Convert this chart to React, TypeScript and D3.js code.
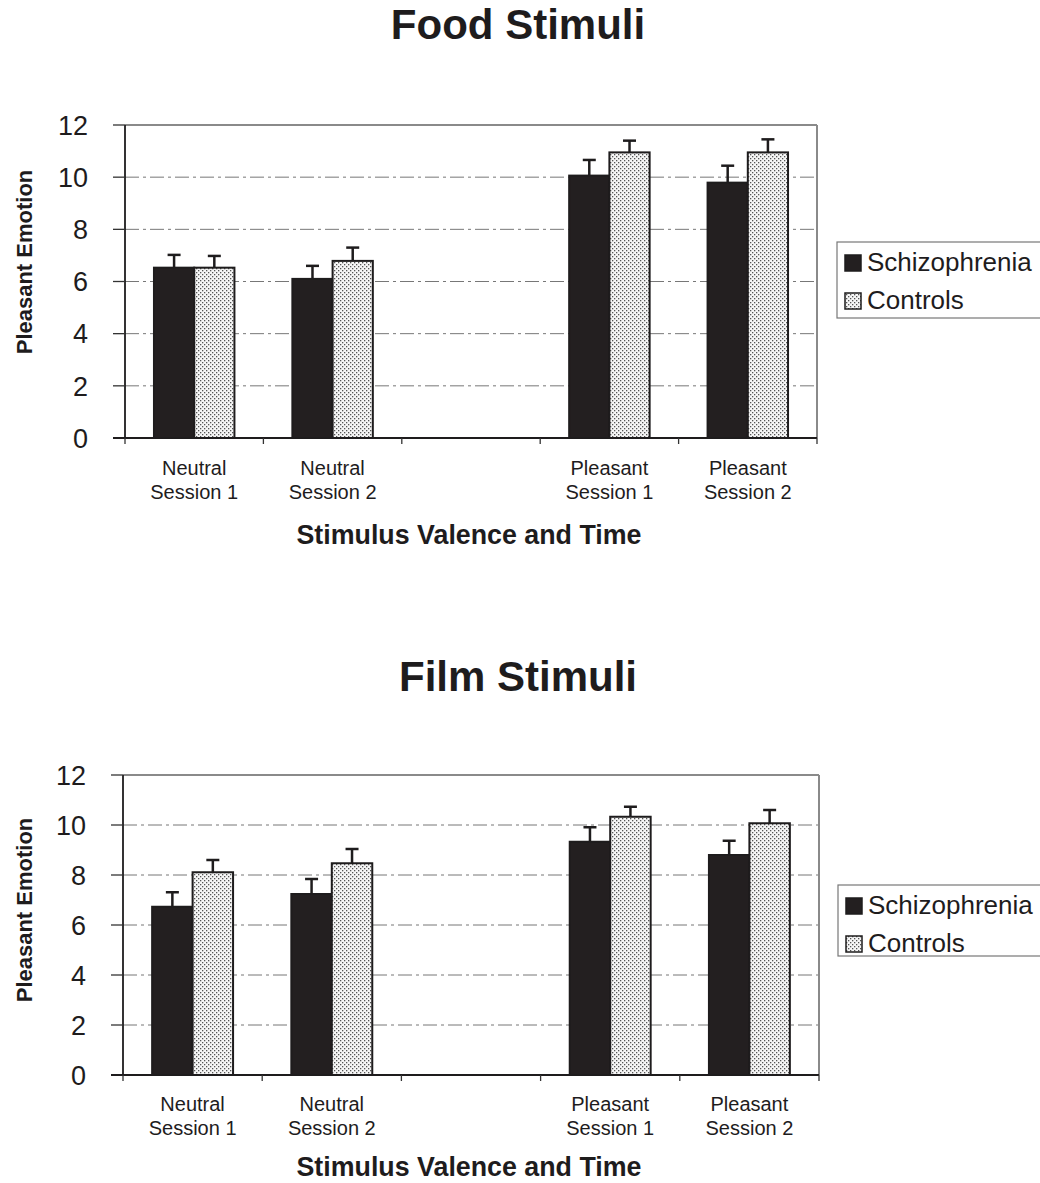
import React from "react";
import * as d3 from "d3";

// ---------- data ----------
const slots = ["NS1", "NS2", "gap", "PS1", "PS2"];
const barSlots = ["NS1", "NS2", "PS1", "PS2"];
const categoryLabels = [
  ["Neutral", "Session 1"],
  ["Neutral", "Session 2"],
  ["Pleasant", "Session 1"],
  ["Pleasant", "Session 2"],
];
const seriesNames = ["Schizophrenia", "Controls"];
const yTicks = [0, 2, 4, 6, 8, 10, 12];

const foodSchizo = [6.53, 6.1, 10.06, 9.79];
const foodSchizoSE = [0.49, 0.5, 0.6, 0.65];
const foodControls = [6.53, 6.79, 10.95, 10.95];
const foodControlsSE = [0.45, 0.51, 0.45, 0.5];

const filmSchizo = [6.73, 7.24, 9.33, 8.8];
const filmSchizoSE = [0.58, 0.6, 0.58, 0.57];
const filmControls = [8.11, 8.47, 10.33, 10.07];
const filmControlsSE = [0.49, 0.57, 0.4, 0.53];

const FONT = "'Liberation Sans', Arial, Helvetica, sans-serif";

type PanelProps = {
  title: string;
  titleY: number;
  left: number;
  top: number;
  right: number;
  bottom: number;
  schizo: number[];
  schizoSE: number[];
  controls: number[];
  controlsSE: number[];
  yTitleY: number;
  legendX: number;
  legendY: number;
  legendH: number;
  catY: number;
  axisTitleY: number;
};

function Panel(p: PanelProps) {
  const x = d3.scaleBand<string>().domain(slots).range([p.left, p.right]).padding(0);
  const xs = d3
    .scaleBand<string>()
    .domain(seriesNames)
    .range([0, x.step()])
    .paddingInner(0)
    .paddingOuter(0.72);
  const y = d3.scaleLinear().domain([0, 12]).range([p.bottom, p.top]);
  const tickXs = slots.map((s) => x(s) as number).concat([p.right]);
  const bw = xs.bandwidth();
  const series = [
    { name: "Schizophrenia", vals: p.schizo, se: p.schizoSE },
    { name: "Controls", vals: p.controls, se: p.controlsSE },
  ];
  const cx = (p.left + p.right) / 2;
  return (
    <g>
      <text
        x={518}
        y={p.titleY}
        textAnchor="middle"
        fontFamily={FONT}
        fontWeight="bold"
        fontSize={42}
        fill="#1e1c1d"
      >
        {p.title}
      </text>
      {/* gridlines */}
      {yTicks
        .filter((t) => t > 0 && t < 12)
        .map((t) => (
          <line
            key={"g" + t}
            x1={p.left}
            x2={p.right}
            y1={y(t)}
            y2={y(t)}
            stroke="#777"
            strokeWidth={1}
            strokeDasharray="14 4 3 4"
          />
        ))}
      {/* frame top/right (gray stipple) */}
      <line x1={p.left} x2={p.right} y1={p.top} y2={p.top} stroke="#8a8a8a" strokeWidth={2} />
      <line x1={p.right} x2={p.right} y1={p.top} y2={p.bottom} stroke="#8a8a8a" strokeWidth={2} />
      {/* bars */}
      {series.map((s) =>
        barSlots.map((slot, i) => {
          const bx = (x(slot) as number) + (xs(s.name) as number);
          const v = s.vals[i];
          const e = v + s.se[i];
          const mid = bx + bw / 2;
          return (
            <g key={s.name + slot}>
              <line x1={mid} x2={mid} y1={y(v)} y2={y(e)} stroke="#1e1c1d" strokeWidth={2.5} />
              <line x1={mid - 6.5} x2={mid + 6.5} y1={y(e)} y2={y(e)} stroke="#1e1c1d" strokeWidth={2.5} />
              <rect
                x={bx}
                y={y(v)}
                width={bw}
                height={y(0) - y(v)}
                fill={s.name === "Schizophrenia" ? "#231f20" : "url(#stipple)"}
                stroke="#1e1c1d"
                strokeWidth={2}
              />
            </g>
          );
        })
      )}
      {/* y axis */}
      <line x1={p.left} x2={p.left} y1={p.top} y2={p.bottom} stroke="#1e1c1d" strokeWidth={1.8} />
      {yTicks.map((t) => (
        <g key={"y" + t}>
          <line x1={p.left - 12} x2={p.left} y1={y(t)} y2={y(t)} stroke="#333" strokeWidth={1.3} />
          <text
            x={p.left - 37}
            y={y(t)}
            dy="0.36em"
            textAnchor="end"
            fontFamily={FONT}
            fontSize={27}
            fill="#1e1c1d"
          >
            {t}
          </text>
        </g>
      ))}
      {/* x axis */}
      <line x1={p.left - 12} x2={p.right} y1={p.bottom} y2={p.bottom} stroke="#1e1c1d" strokeWidth={1.8} />
      {tickXs.map((tx, i) => (
        <line key={"xt" + i} x1={tx} x2={tx} y1={p.bottom} y2={p.bottom + 6} stroke="#333" strokeWidth={1.3} />
      ))}
      {barSlots.map((slot, i) => {
        const c = (x(slot) as number) + x.bandwidth() / 2;
        return (
          <text key={"c" + slot} textAnchor="middle" fontFamily={FONT} fontSize={20} fill="#1e1c1d">
            <tspan x={c} y={p.catY}>
              {categoryLabels[i][0]}
            </tspan>
            <tspan x={c} y={p.catY + 24}>
              {categoryLabels[i][1]}
            </tspan>
          </text>
        );
      })}
      <text
        x={cx - 2}
        y={p.axisTitleY}
        textAnchor="middle"
        fontFamily={FONT}
        fontWeight="bold"
        fontSize={26.8}
        fill="#1e1c1d"
      >
        Stimulus Valence and Time
      </text>
      <text
        transform={`translate(32,${p.yTitleY}) rotate(-90)`}
        textAnchor="middle"
        fontFamily={FONT}
        fontWeight="bold"
        fontSize={22}
        fill="#1e1c1d"
      >
        Pleasant Emotion
      </text>
      {/* legend */}
      <rect
        x={p.legendX}
        y={p.legendY}
        width={260}
        height={p.legendH}
        fill="white"
        stroke="#777"
        strokeWidth={1.2}
      />
      {seriesNames.map((n, i) => {
        const ly = p.legendY + 13 + i * 38;
        return (
          <g key={"l" + n}>
            <rect
              x={p.legendX + 8}
              y={ly}
              width={16}
              height={16}
              fill={n === "Schizophrenia" ? "#231f20" : "url(#stipple)"}
              stroke="#1e1c1d"
              strokeWidth={1.5}
            />
            <text x={p.legendX + 30} y={ly + 16} fontFamily={FONT} fontSize={26} fill="#1e1c1d">
              {n}
            </text>
          </g>
        );
      })}
    </g>
  );
}

export default function App() {
  return (
    <svg
      width={1040}
      height={1183}
      style={{ position: "absolute", left: 0, top: 0, background: "white" }}
    >
      <defs>
        <pattern id="stipple" patternUnits="userSpaceOnUse" width={4} height={4}>
          <rect width={4} height={4} fill="#f6f6f6" />
          <rect x={0} y={0} width={1.3} height={1.3} fill="#555" />
          <rect x={2} y={2} width={1.3} height={1.3} fill="#555" />
        </pattern>
      </defs>
      <rect width={1040} height={1183} fill="white" />
      <Panel
        title="Food Stimuli"
        titleY={39}
        left={125}
        top={125}
        right={817}
        bottom={438}
        schizo={foodSchizo}
        schizoSE={foodSchizoSE}
        controls={foodControls}
        controlsSE={foodControlsSE}
        yTitleY={262}
        legendX={837}
        legendY={242}
        legendH={76}
        catY={475}
        axisTitleY={544}
      />
      <Panel
        title="Film Stimuli"
        titleY={691}
        left={123}
        top={775}
        right={819}
        bottom={1075}
        schizo={filmSchizo}
        schizoSE={filmSchizoSE}
        controls={filmControls}
        controlsSE={filmControlsSE}
        yTitleY={910}
        legendX={838}
        legendY={885}
        legendH={71}
        catY={1111}
        axisTitleY={1176}
      />
    </svg>
  );
}
